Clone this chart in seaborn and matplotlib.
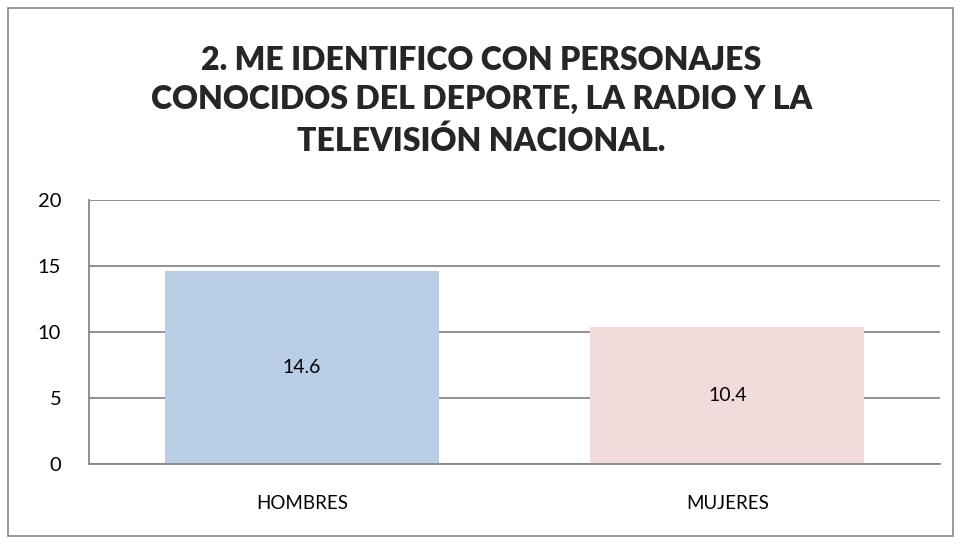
import matplotlib
matplotlib.use("Agg")
import matplotlib.pyplot as plt
import seaborn as sns
import pandas as pd
from matplotlib.patches import Rectangle

# datos
categorias = ["HOMBRES", "MUJERES"]
valores = [14.6, 10.4]
colores = ["#B9CDE5", "#F2DCDB"]
titulo = "2. ME IDENTIFICO CON PERSONAJES\nCONOCIDOS DEL DEPORTE, LA RADIO Y LA\nTELEVISIÓN NACIONAL."

df = pd.DataFrame({"Grupo": categorias, "Valor": valores})

sns.set_style("white")
plt.rcParams["font.family"] = ["Lato", "DejaVu Sans"]

fig = plt.figure(figsize=(9.63, 5.44), dpi=100)
ax = fig.add_axes([89 / 963, 80 / 544, 851 / 963, 264 / 544])

sns.barplot(data=df, x="Grupo", y="Valor", hue="Grupo", palette=colores,
            width=0.645, legend=False, ax=ax, saturation=1, linewidth=0)

for i, v in enumerate(valores):
    ax.text(i, v / 2, f"{v}", ha="center", va="center", fontsize=14, color="black")

ax.set_ylim(0, 20)
ax.set_yticks([0, 5, 10, 15, 20])
ax.set_xlim(-0.5, 1.5)
ax.set_xlabel("")
ax.set_ylabel("")
ax.yaxis.grid(True, color="#888888", linewidth=1.3)
ax.set_axisbelow(True)
for s in ["top", "right"]:
    ax.spines[s].set_visible(False)
for s in ["left", "bottom"]:
    ax.spines[s].set_color("#888888")
    ax.spines[s].set_linewidth(1.3)
ax.tick_params(axis="both", length=0, labelsize=14.5, colors="black")
ax.tick_params(axis="y", pad=20)
ax.tick_params(axis="x", pad=22)
for lbl in ax.get_xticklabels():
    lbl.set_fontsize(13.5)

fig.text(0.5, 1 - 101 / 544, titulo, ha="center", va="center",
         fontsize=23, fontweight="heavy", linespacing=1.42)

fig.patches.append(Rectangle((8 / 963, 8 / 544), 945 / 963, 528 / 544,
                             transform=fig.transFigure, fill=False,
                             edgecolor="#888888", linewidth=1.2))

fig.savefig("out.png", dpi=100)
